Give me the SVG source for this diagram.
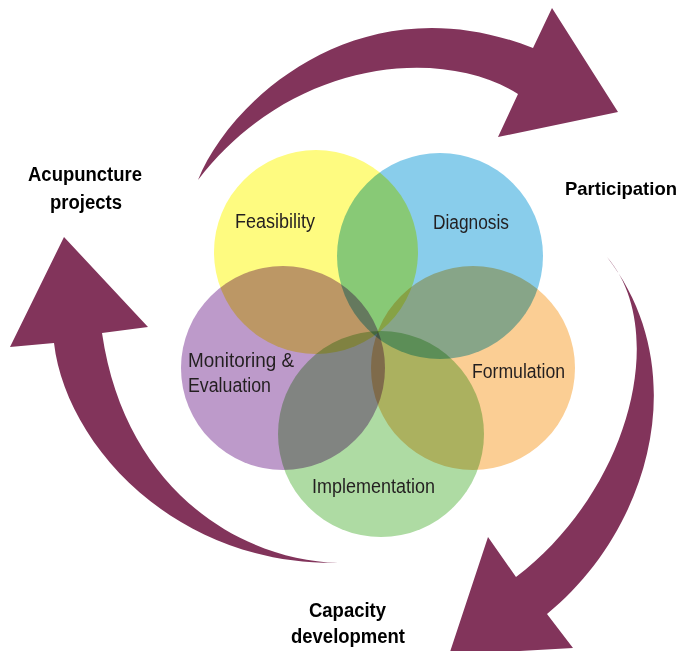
<svg xmlns="http://www.w3.org/2000/svg" width="681" height="651" viewBox="0 0 681 651">
<style>
.arrow{fill:#82345B;stroke:none}
.c{mix-blend-mode:multiply}
.lbl{font-family:"Liberation Sans",Arial,sans-serif;font-size:20px;fill:#231F20}
.hd{font-family:"Liberation Sans",Arial,sans-serif;font-size:20px;font-weight:bold;fill:#000}
</style>
<rect width="681" height="651" fill="#fff"/>
<g id="connectors">
<path id="arrow-top" class="arrow" d="M198,180 C230,100 360,-20 533,48 L552,8 L618,112 L498,137 L518,94 C440,45 290,60 198,180 Z"/>
<path id="arrow-right" class="arrow" d="M607,257 C695,370 650,530 547,614 L573,648 L449,655 L488,537 L516,577 C630,490 670,330 607,257 Z"/>
<path id="arrow-left" class="arrow" d="M338,563 C240,560 125,490 102,333 L148,327 L64,237 L10,347 L54,343 C65,440 170,565 338,563 Z"/>
</g>
<g id="circles" style="isolation:isolate">
<g id="feasibility"><circle class="c" cx="316" cy="252" r="102" fill="#FEFB80"/></g>
<g id="diagnosis"><circle class="c" cx="440" cy="256" r="103" fill="#89CDEB"/></g>
<g id="formulation"><circle class="c" cx="473" cy="368" r="102" fill="#FBCE94"/></g>
<g id="implementation"><circle class="c" cx="381" cy="434" r="103" fill="#AEDBA3"/></g>
<g id="monitoring"><circle class="c" cx="283" cy="368" r="102" fill="#BD9ACA"/></g>
</g>
<g id="circle-labels">
<text class="lbl" x="235" y="228" textLength="80" lengthAdjust="spacingAndGlyphs">Feasibility</text>
<text class="lbl" x="433" y="229" textLength="76" lengthAdjust="spacingAndGlyphs">Diagnosis</text>
<text class="lbl" x="472" y="378" textLength="93" lengthAdjust="spacingAndGlyphs">Formulation</text>
<text class="lbl" x="312" y="493" textLength="123" lengthAdjust="spacingAndGlyphs">Implementation</text>
<text class="lbl" x="188" y="367" textLength="106" lengthAdjust="spacingAndGlyphs">Monitoring &amp;</text>
<text class="lbl" x="188" y="392" textLength="83" lengthAdjust="spacingAndGlyphs">Evaluation</text>
</g>
<g id="outer-labels">
<g id="label-acupuncture">
<text class="hd" x="28" y="181" textLength="114" lengthAdjust="spacingAndGlyphs">Acupuncture</text>
<text class="hd" x="50" y="209" textLength="72" lengthAdjust="spacingAndGlyphs">projects</text>
</g>
<g id="label-participation">
<text class="hd" x="565" y="195" style="font-size:18.5px" textLength="112" lengthAdjust="spacingAndGlyphs">Participation</text>
</g>
<g id="label-capacity">
<text class="hd" x="309" y="617" textLength="77" lengthAdjust="spacingAndGlyphs">Capacity</text>
<text class="hd" x="291" y="643" textLength="114" lengthAdjust="spacingAndGlyphs">development</text>
</g>
</g>
</svg>
